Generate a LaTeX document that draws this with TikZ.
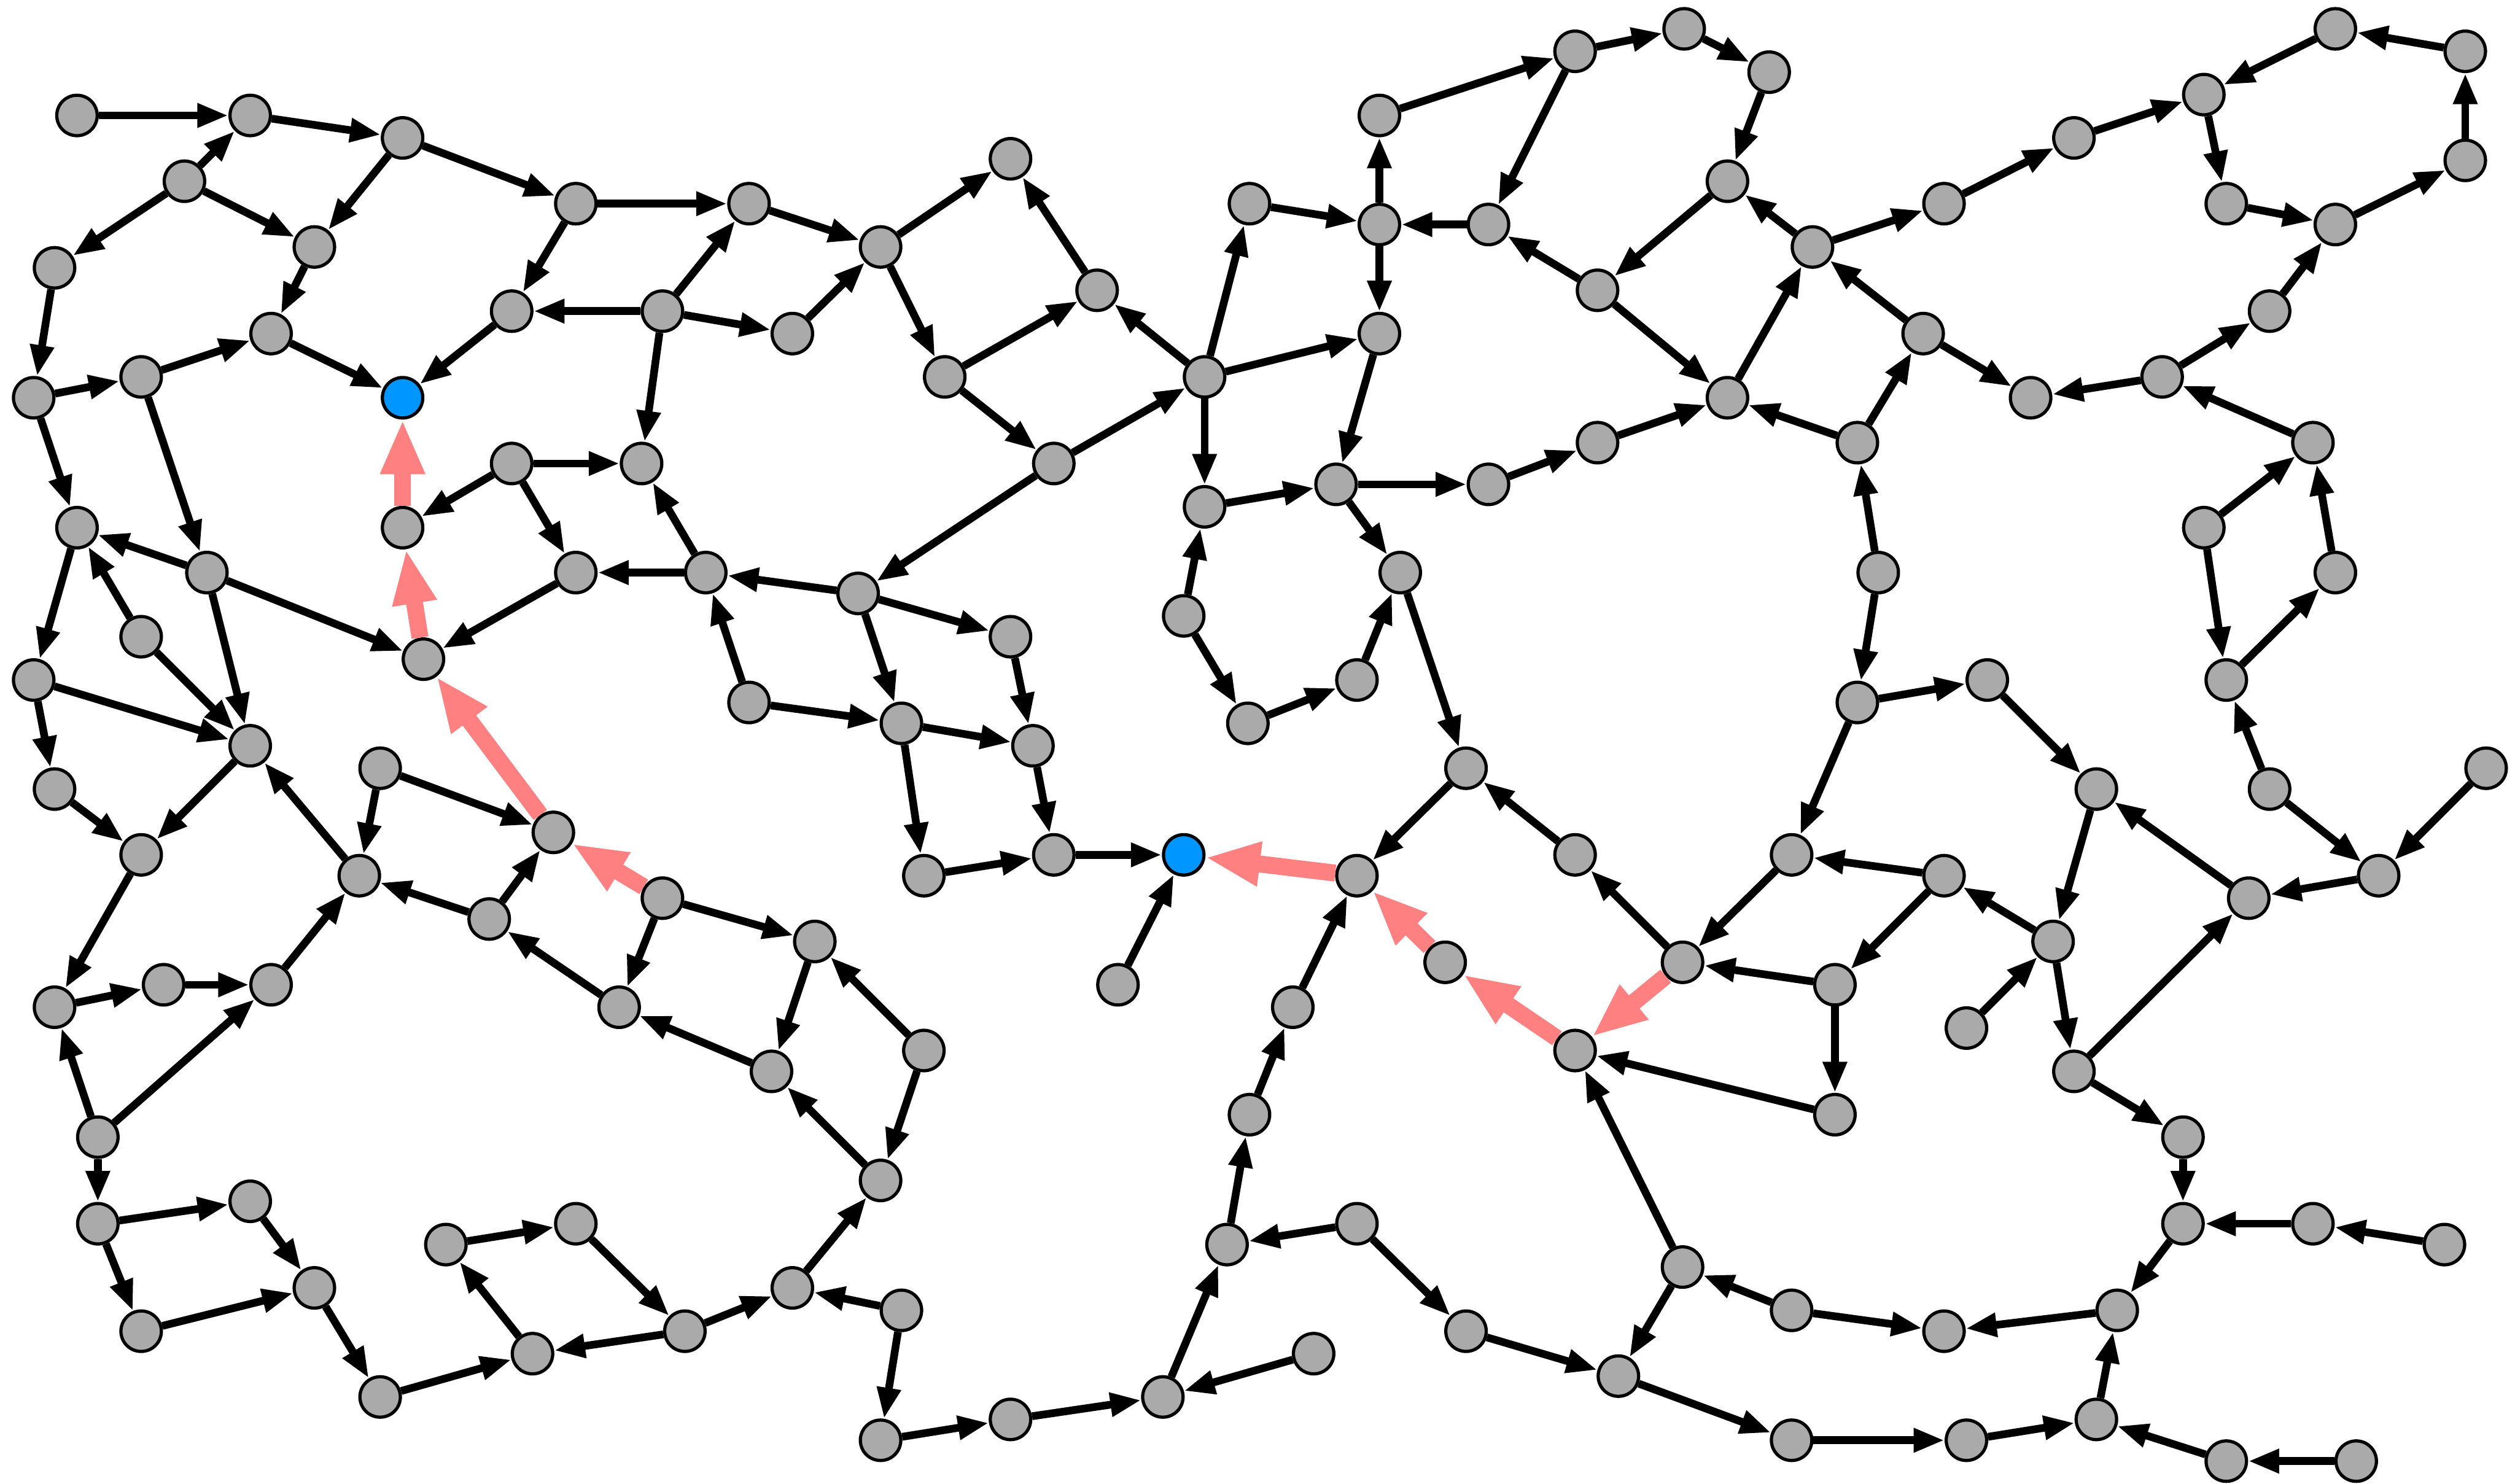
\documentclass[tikz,border=0pt]{standalone}
\usetikzlibrary{arrows.meta}
\definecolor{ndgray}{RGB}{170,170,170}
\definecolor{ndblue}{RGB}{0,150,255}
\definecolor{hlred}{RGB}{255,128,128}
\begin{document}
\begin{tikzpicture}[x=0.01cm,y=-0.01cm,
  nd/.style={circle,draw=black,line width=0.57pt,fill=ndgray,minimum size=0.252cm,inner sep=0pt},
  bl/.style={nd,fill=ndblue},
  blk/.style={draw=black,line width=1.37pt,-{Triangle[length=5.5pt,width=4pt]}},
  hl/.style={draw=hlred,line width=3pt,-{Triangle[length=9.7pt,width=7.3pt]}}]
\useasboundingbox (0,0) rectangle (1568,925);
\foreach \n/\x/\y in {
n1/48/72,n2/156/72,n3/251/86,n4/115/113,n5/196/154,n6/34/167,n7/359/127,n8/467/127,
n9/549/154,n10/630/99,n11/319/194,n12/413/194,n13/494/208,n14/169/208,n15/88/235,n16/21/248,
n18/684/181,n19/589/235,n20/751/235,n21/657/289,n22/319/289,n23/400/289,n24/251/329,
n25/48/329,n26/129/357,n27/359/357,n28/440/357,n29/535/370,n30/88/397,n31/21/424,n32/264/411,
n33/630/397,n34/467/438,n35/562/451,n36/644/465,n37/156/465,n38/34/492,n39/88/533,n40/237/479,
n41/345/519,n42/224/546,n43/305/573,n44/413/560,n45/576/546,n46/657/533,n48/508/587,
n49/386/628,n50/481/668,n51/576/655,n52/34/628,n53/102/614,n54/169/614,n55/697/614,n56/61/709,
n57/549/736,n58/61/763,n59/156/749,n60/196/803,n61/88/830,n62/278/776,n63/359/763,n64/494/803,
n65/562/817,n66/427/830,n67/332/844,n68/237/871,n69/549/898,n70/630/885,n71/725/871,n72/819/844,
n73/779/127,n74/860/140,n75/860/72,n76/928/140,n77/982/32,n78/1050/18,n79/1103/45,n80/1077/113,
n81/996/181,n82/860/208,n83/833/302,n84/751/316,n85/928/302,n86/996/276,n87/1077/248,n88/873/357,
n89/738/384,n90/778/451,n91/846/424,n92/914/479,n93/982/533,n94/846/546,n95/901/600,n96/1049/600,
n97/982/655,n98/806/628,n99/779/695,n100/765/776,n101/846/763,n102/914/830,n103/1009/858,
n104/1049/790,n105/1117/817,n106/1212/830,n107/1320/817,n108/1361/763,n109/1442/763,n110/1524/776,
n111/1361/709,n112/1293/668,n113/1144/695,n114/1144/614,n115/1117/533,n116/1212/546,n117/1280/587,
n118/1226/641,n119/1158/438,n120/1239/424,n121/1307/492,n122/1171/357,n123/1158/276,n124/1199/208,
n125/1130/154,n126/1212/127,n127/1293/86,n128/1374/59,n129/1456/18,n130/1537/32,n131/1537/100,
n132/1456/140,n133/1388/127,n134/1415/194,n135/1348/235,n136/1266/248,n137/1442/276,n138/1374/329,
n139/1456/357,n140/1388/424,n141/1415/492,n142/1483/546,n143/1550/479,n144/1402/560,n145/1117/898,
n146/1226/898,n147/1307/885,n148/1388/911,n149/1469/911}
  \node[nd] (\n) at (\x,\y) {};
\node[bl] (n17) at (251,248) {};
\node[bl] (n47) at (738,533) {};
\foreach \a/\b in {
n1/n2,n2/n3,n4/n2,n4/n6,n4/n5,n3/n5,n3/n7,n5/n14,n7/n8,n7/n11,n8/n9,n12/n8,n12/n11,n12/n13,
n13/n9,n12/n23,n11/n17,n14/n17,n15/n14,n16/n15,n6/n16,n16/n25,n15/n26,n26/n25,n26/n32,n26/n37,
n25/n31,n30/n25,n30/n37,n31/n37,n31/n38,n38/n39,n37/n39,n39/n52,n52/n53,n53/n54,n56/n52,n56/n54,
n56/n58,n58/n59,n58/n61,n59/n60,n61/n60,n60/n68,n68/n67,n67/n62,n62/n63,n63/n66,n66/n67,n66/n64,
n65/n64,n64/n57,n51/n57,n57/n50,n51/n48,n48/n50,n50/n49,n49/n43,n43/n41,n44/n49,n44/n48,
n40/n41,n40/n42,n43/n42,n42/n37,n54/n42,n27/n32,n28/n27,n22/n27,n22/n23,n22/n24,n28/n23,n29/n28,
n34/n28,n34/n35,n29/n33,n29/n35,n21/n29,n33/n36,n35/n36,n35/n45,n36/n46,n45/n46,n46/n47,n55/n47,
n19/n18,n19/n21,n9/n19,n18/n10,n9/n10,n20/n18,n21/n20,n20/n73,n20/n82,n20/n84,n73/n74,n74/n75,
n76/n74,n74/n82,n82/n83,n84/n83,n83/n85,n83/n88,n85/n86,n86/n87,n89/n84,n89/n90,n90/n91,n91/n88,
n88/n92,n92/n94,n93/n92,n96/n93,n98/n94,n99/n98,n100/n99,n101/n100,n71/n100,n72/n71,n70/n71,
n69/n70,n65/n69,n101/n102,n102/n103,n104/n103,n104/n97,n105/n104,n105/n106,n107/n106,n103/n145,
n145/n146,n146/n147,n148/n147,n149/n148,n147/n107,n108/n107,n109/n108,n110/n109,n111/n108,
n112/n111,n113/n97,n114/n113,n114/n96,n116/n114,n116/n115,n115/n96,n117/n116,n118/n117,n117/n112,
n121/n117,n120/n121,n119/n120,n119/n115,n122/n119,n122/n123,n123/n87,n123/n124,n124/n125,
n124/n136,n87/n125,n125/n126,n125/n80,n80/n81,n81/n87,n81/n76,n77/n76,n75/n77,n77/n78,n78/n79,
n79/n80,n126/n127,n127/n128,n129/n128,n130/n129,n131/n130,n128/n133,n133/n132,n132/n131,
n134/n132,n135/n134,n135/n136,n137/n135,n138/n137,n139/n137,n138/n140,n140/n139,n141/n140,
n141/n142,n143/n142,n142/n144,n144/n121,n112/n144}
  \draw[blk] (\a) -- (\b);
\foreach \a/\b in {n44/n41,n41/n32,n32/n24,n24/n17,n96/n97,n97/n95,n95/n94,n94/n47}
  \draw[hl] (\a) -- (\b);
\end{tikzpicture}
\end{document}
